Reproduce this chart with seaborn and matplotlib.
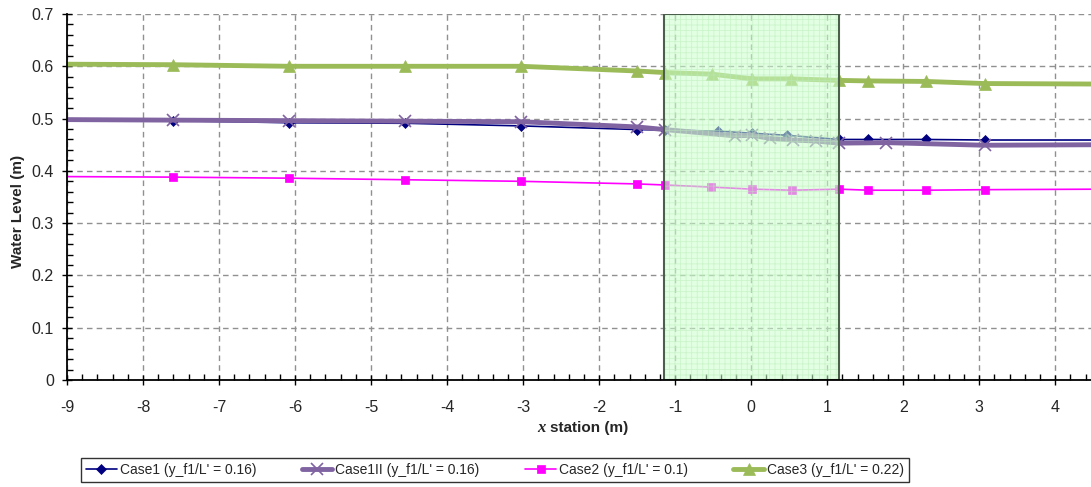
import matplotlib
matplotlib.use("Agg")
import matplotlib.pyplot as plt
import matplotlib.ticker as mticker
from matplotlib.patches import Rectangle
from matplotlib.lines import Line2D
import seaborn as sns
import pandas as pd

# ---- data ----
case1_x = [-9, -7.6, -6.08, -4.55, -3.03, -1.5, -1.14, -0.44, 0.01, 0.47, 1.16, 1.54, 2.3, 3.07, 4.6]
case1_y = [0.497, 0.496, 0.492, 0.491, 0.486, 0.479, 0.478, 0.476, 0.472, 0.468, 0.460, 0.460, 0.460, 0.459, 0.459]

case1ii_x = [-9, -7.6, -6.08, -4.55, -3.03, -1.5, -1.14, -0.21, 0.01, 0.25, 0.55, 0.85, 1.16, 1.77, 3.07, 4.6]
case1ii_y = [0.498, 0.497, 0.496, 0.495, 0.494, 0.484, 0.479, 0.467, 0.468, 0.462, 0.459, 0.457, 0.453, 0.454, 0.449, 0.450]

case2_x = [-9, -7.6, -6.08, -4.55, -3.03, -1.5, -1.14, -0.53, 0.01, 0.54, 1.16, 1.54, 2.3, 3.07, 4.6]
case2_y = [0.389, 0.388, 0.386, 0.383, 0.380, 0.375, 0.373, 0.369, 0.365, 0.363, 0.365, 0.363, 0.363, 0.364, 0.365]

case3_x = [-9, -7.6, -6.08, -4.55, -3.03, -1.5, -1.14, -0.52, 0.01, 0.53, 1.16, 1.54, 2.3, 3.07, 4.6]
case3_y = [0.604, 0.603, 0.600, 0.600, 0.600, 0.591, 0.588, 0.585, 0.576, 0.576, 0.573, 0.572, 0.571, 0.567, 0.566]

labels = ["Case1 (y_f1/L' = 0.16)", "Case1II (y_f1/L' = 0.16)",
          "Case2 (y_f1/L' = 0.1)", "Case3 (y_f1/L' = 0.22)"]
region = [-1.15, 1.16]
x_ticks = list(range(-9, 5))
y_ticks = [0, 0.1, 0.2, 0.3, 0.4, 0.5, 0.6, 0.7]

# ---- style ----
sns.set_theme(style="white")
plt.rcParams['font.family'] = ['Liberation Sans', 'DejaVu Sans']
plt.rcParams['axes.unicode_minus'] = False
plt.rcParams['hatch.linewidth'] = 0.6

fig = plt.figure(figsize=(10.91, 4.87), dpi=100)
ax = fig.add_axes([67/1091, (487-380)/487, (1091-67)/1091, 366/487])

series = [
    (case1_x, case1_y, "#000080", "D", 1.2, 5, labels[0]),
    (case1ii_x, case1ii_y, "#8064A2", "x", 3.5, 8, labels[1]),
    (case2_x, case2_y, "#FF00FF", "s", 1.2, 6, labels[2]),
    (case3_x, case3_y, "#9BBB59", "^", 3.5, 8, labels[3]),
]
handles = []
for xs, ys, col, mk, lw, ms, lab in series:
    df = pd.DataFrame({"x": xs, "y": ys})
    mew = 1.2 if mk == "x" else 0.5
    sns.lineplot(data=df, x="x", y="y", ax=ax, color=col, lw=lw, marker=mk,
                 markersize=ms, markeredgecolor=col, markerfacecolor=col,
                 markeredgewidth=mew, markevery=slice(1, len(xs) - 1),
                 sort=False, zorder=3, legend=False)
    handles.append(Line2D([], [], color=col, lw=lw, marker=mk, markersize=ms,
                          markeredgecolor=col, markerfacecolor=col,
                          markeredgewidth=mew, label=lab))

# shaded region (drawn on top, semi-transparent with fine grid pattern)
ax.add_patch(Rectangle((region[0], 0), region[1] - region[0], 0.7,
                       facecolor="#ccffcc", edgecolor="#b8ecb8", hatch="+++",
                       linewidth=0, alpha=0.55, zorder=4))
ax.add_patch(Rectangle((region[0], 0), region[1] - region[0], 0.7,
                       facecolor="none", edgecolor="#4a604a", linewidth=1.5, zorder=5))

ax.set_xlim(-9, 4.47)
ax.set_ylim(0, 0.7)
ax.set_xticks(x_ticks)
ax.set_yticks(y_ticks)
ax.xaxis.set_minor_locator(mticker.MultipleLocator(0.2))
ax.yaxis.set_minor_locator(mticker.MultipleLocator(0.02))
ax.yaxis.set_major_formatter(mticker.FormatStrFormatter('%g'))
ax.xaxis.set_major_formatter(mticker.FormatStrFormatter('%g'))
ax.tick_params(axis='both', which='major', direction='inout', length=7, width=1,
               color='black', labelsize=11.5, pad=8, bottom=True, left=True)
ax.tick_params(axis='both', which='minor', direction='in', length=4, width=1,
               color='black', bottom=True, left=True)
ax.tick_params(axis='x', which='major', pad=11)
ax.tick_params(axis='y', which='major', pad=6)

ax.grid(True, which='major', linestyle=(0, (4, 3)), color='#909090', linewidth=1)
ax.set_axisbelow(True)
for s in ['top', 'right']:
    ax.spines[s].set_visible(False)
for s in ['left', 'bottom']:
    ax.spines[s].set_color('black')
    ax.spines[s].set_linewidth(1.3)
    ax.spines[s].set_zorder(6)

ax.set_ylabel("Water Level (m)", fontsize=11, fontweight='bold', labelpad=8)
ax.yaxis.set_label_coords(-0.041, 0.46)
ax.set_xlabel("")
fig.text(0.5005, 1 - 428/487, "x", ha='right', va='center', fontsize=12,
         fontweight='bold', fontstyle='italic', family=['Liberation Serif'])
fig.text(0.5045, 1 - 428/487, "station (m)", ha='left', va='center', fontsize=11,
         fontweight='bold')

leg = fig.legend(handles=handles, loc='center', bbox_to_anchor=(495/1091, 1 - 470/487),
                 ncol=4, fontsize=10, frameon=True, fancybox=False, edgecolor='black',
                 handlelength=2.2, columnspacing=3.3, handletextpad=0.2, borderpad=0.35,
                 numpoints=1)
leg.get_frame().set_linewidth(1)

fig.savefig("out.png", dpi=100)
